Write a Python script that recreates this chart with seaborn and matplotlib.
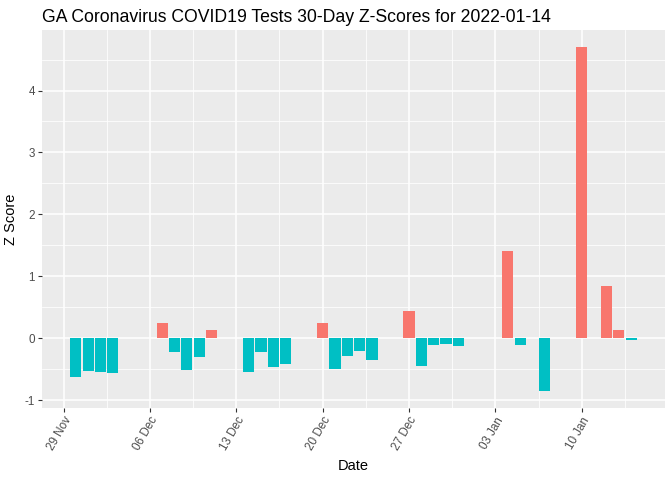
import numpy as np
import pandas as pd
import matplotlib
matplotlib.use("Agg")
import matplotlib.pyplot as plt
import matplotlib.dates as mdates
from matplotlib.ticker import FixedLocator, MultipleLocator
import seaborn as sns

# Daily z-scores
dates = ["2021-11-30", "2021-12-01", "2021-12-02", "2021-12-03",
         "2021-12-07", "2021-12-08", "2021-12-09", "2021-12-10", "2021-12-11",
         "2021-12-14", "2021-12-15", "2021-12-16", "2021-12-17",
         "2021-12-20", "2021-12-21", "2021-12-22", "2021-12-23", "2021-12-24",
         "2021-12-27", "2021-12-28", "2021-12-29", "2021-12-30", "2021-12-31",
         "2022-01-04", "2022-01-05", "2022-01-07",
         "2022-01-10", "2022-01-12", "2022-01-13", "2022-01-14"]
zscores = [-0.63, -0.525, -0.54, -0.56,
           0.24, -0.23, -0.51, -0.31, 0.125,
           -0.54, -0.23, -0.46, -0.42,
           0.24, -0.50, -0.28, -0.21, -0.36,
           0.44, -0.455, -0.11, -0.10, -0.13,
           1.41, -0.11, -0.85,
           4.70, 0.85, 0.13, -0.03]
tick_dates = ["2021-11-29", "2021-12-06", "2021-12-13", "2021-12-20",
              "2021-12-27", "2022-01-03", "2022-01-10"]

df = pd.DataFrame({"date": pd.to_datetime(dates), "z": zscores})
df["x"] = mdates.date2num(df["date"])
df["sign"] = np.where(df["z"] > 0, "pos", "neg")

plt.rcParams["font.family"] = ["Liberation Sans", "DejaVu Sans"]
plt.rcParams["axes.unicode_minus"] = False

fig = plt.figure(figsize=(6.72, 4.8), dpi=100)
ax = fig.add_axes([42 / 672, 1 - 408 / 480, 623 / 672, 378 / 480])
ax.set_facecolor("#EBEBEB")

sns.barplot(data=df, x="x", y="z", hue="sign", native_scale=True,
            palette={"pos": "#F8766D", "neg": "#00BFC4"}, dodge=False,
            width=0.9, legend=False, saturation=1, ax=ax, zorder=3)

ticks = mdates.date2num(pd.to_datetime(tick_dates))
ax.xaxis.set_major_locator(FixedLocator(ticks))
ax.xaxis.set_minor_locator(FixedLocator(np.append(ticks - 3.5, ticks[-1] + 3.5)))
ax.xaxis.set_major_formatter(mdates.DateFormatter("%d %b"))
ax.yaxis.set_major_locator(MultipleLocator(1))
ax.yaxis.set_minor_locator(MultipleLocator(0.5))

x0 = df["x"].min() - 0.45
x1 = df["x"].max() + 0.45
ax.set_xlim(x0 - 0.05 * (x1 - x0), x1 + 0.05 * (x1 - x0))
ymin, ymax = min(df["z"].min(), 0), df["z"].max()
ax.set_ylim(ymin - 0.05 * (ymax - ymin), ymax + 0.05 * (ymax - ymin))

ax.grid(which="major", color="white", linewidth=1.1, zorder=0)
ax.grid(which="minor", color="white", linewidth=0.55, zorder=0)
ax.set_axisbelow(True)
for s in ax.spines.values():
    s.set_visible(False)
ax.tick_params(which="major", length=3, width=0.8, color="#333333",
               labelsize=8.4, labelcolor="#4D4D4D", pad=2)
ax.tick_params(which="minor", length=0)
plt.setp(ax.get_xticklabels(), rotation=60, ha="right", rotation_mode="anchor")

ax.set_xlabel("Date", fontsize=10.5, labelpad=4)
ax.set_ylabel("Z Score", fontsize=10.5, labelpad=5)
fig.text(42 / 672, 1 - 22 / 480, "GA Coronavirus COVID19 Tests 30-Day Z-Scores for 2022-01-14",
         fontsize=12.7, ha="left", va="baseline")

fig.savefig("out.png", dpi=100)
